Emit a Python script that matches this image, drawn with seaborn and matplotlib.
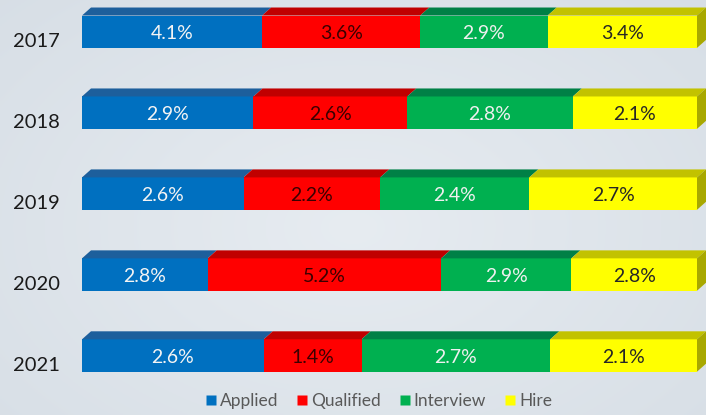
import numpy as np
import pandas as pd
import matplotlib
matplotlib.use("Agg")
import matplotlib.pyplot as plt
import seaborn as sns
from matplotlib.patches import Polygon
from matplotlib.lines import Line2D
from matplotlib.transforms import ScaledTranslation

# Hiring funnel rates by year
years = ["2017", "2018", "2019", "2020", "2021"]
stages = ["Applied", "Qualified", "Interview", "Hire"]
applied = [4.1, 2.9, 2.6, 2.8, 2.6]
qualified = [3.6, 2.6, 2.2, 5.2, 1.4]
interview = [2.9, 2.8, 2.4, 2.9, 2.7]
hire = [3.4, 2.1, 2.7, 2.8, 2.1]

front_colors = ["#0070C0", "#FF0000", "#00B050", "#FFFF00"]
top_colors = ["#1d5f9c", "#c00000", "#008046", "#c2c200"]
side_color = "#a8a800"
label_colors = ["#f4f4f4", "#3a0000", "#f0f0f0", "#262626"]

df = pd.DataFrame({"year": years, "Applied": applied, "Qualified": qualified,
                   "Interview": interview, "Hire": hire})
totals = df[stages].sum(axis=1)
share = df[stages].div(totals, axis=0) * 100
cum_end = share.cumsum(axis=1)
cum_start = cum_end - share

sns.set_theme(style="white")
plt.rcParams["font.family"] = ["Lato", "DejaVu Sans"]

W, H, DPI = 706, 415, 100
fig = plt.figure(figsize=(W / DPI, H / DPI), dpi=DPI)
fig.patch.set_facecolor("#dce3ea")

# soft backdrop
bg = fig.add_axes([0, 0, 1, 1], zorder=-5)
yy, xx = np.mgrid[0:1:200j, 0:1:300j]
r = np.sqrt(((xx - 0.5) / 0.8) ** 2 + ((yy - 0.55) / 0.9) ** 2)
light = np.array([0.905, 0.925, 0.945])
dark = np.array([0.835, 0.865, 0.895])
img = light[None, None, :] * (1 - r[..., None]) + dark[None, None, :] * r[..., None]
bg.imshow(np.clip(img, 0, 1), aspect="auto", extent=[0, 1, 0, 1])
bg.axis("off")

# plot area: x 0..100 spans px 82..697
left_px, right_px = 82, 697
top_px, bottom_px = 0, 385
ax = fig.add_axes([left_px / W, 1 - bottom_px / H,
                   (right_px - left_px) / W, (bottom_px - top_px) / H])
ax.patch.set_alpha(0)

bar_h = 0.40
# stacked bars: draw cumulative totals from the last stage to the first
for k in range(len(stages) - 1, -1, -1):
    sns.barplot(x=cum_end[stages[k]].values, y=df["year"], orient="h",
                color=front_colors[k], saturation=1, width=bar_h,
                linewidth=0, ax=ax)

ax.set_xlim(0, 100)
spacing = 80.95
y_top = -31.7 / spacing
y_bot = (bottom_px - top_px - 31.7) / spacing
ax.set_ylim(y_bot, y_top)

fig.canvas.draw()
to_disp = ax.transData
dx_px, dy_px = 9, 8

# 3-D top faces and right side face
for i in range(len(years)):
    for k, st in enumerate(stages):
        x0 = cum_start.loc[i, st]
        x1 = cum_end.loc[i, st]
        (a_x, a_y) = to_disp.transform((x0, i - bar_h / 2))
        (b_x, _) = to_disp.transform((x1, i - bar_h / 2))
        pts = [(a_x, a_y), (b_x, a_y), (b_x + dx_px, a_y + dy_px), (a_x + dx_px, a_y + dy_px)]
        fig.patches.append(Polygon(pts, closed=True, transform=None, facecolor=top_colors[k],
                                   edgecolor="none", figure=fig))
    x_end = cum_end.loc[i, stages[-1]]
    (e_x, e_top) = to_disp.transform((x_end, i - bar_h / 2))
    (_, e_bot) = to_disp.transform((x_end, i + bar_h / 2))
    pts = [(e_x, e_top), (e_x + dx_px, e_top + dy_px), (e_x + dx_px, e_bot + dy_px), (e_x, e_bot)]
    fig.patches.append(Polygon(pts, closed=True, transform=None, facecolor=side_color,
                               edgecolor="none", figure=fig))

# value labels
down = ScaledTranslation(0, -2 / DPI, fig.dpi_scale_trans)
for i in range(len(years)):
    for k, st in enumerate(stages):
        xc = cum_start.loc[i, st] + share.loc[i, st] / 2
        ax.text(xc, i, f"{df.loc[i, st]:.1f}%", ha="center", va="center",
                fontsize=14, color=label_colors[k], transform=ax.transData + down)

# axes styling
sns.despine(ax=ax, left=True, bottom=True)
ax.set_xticks([])
ax.set_xlabel("")
ax.set_ylabel("")
ax.tick_params(axis="y", length=0, pad=16, labelsize=14.5, labelcolor="#1a1a1a")
shift = ScaledTranslation(0, -8 / DPI, fig.dpi_scale_trans)
for lab in ax.get_yticklabels():
    lab.set_transform(lab.get_transform() + shift)

handles = [Line2D([], [], marker="s", linestyle="none", markersize=7.5,
                  markerfacecolor=c, markeredgecolor="none") for c in front_colors]
fig.legend(handles, stages, loc="center", bbox_to_anchor=(378 / W, 1 - 401 / H),
           ncol=4, frameon=False, fontsize=12.5, labelcolor="#595959",
           handletextpad=0.1, columnspacing=1.0, handlelength=0.8)

fig.savefig("out.png", dpi=DPI, facecolor=fig.get_facecolor())
